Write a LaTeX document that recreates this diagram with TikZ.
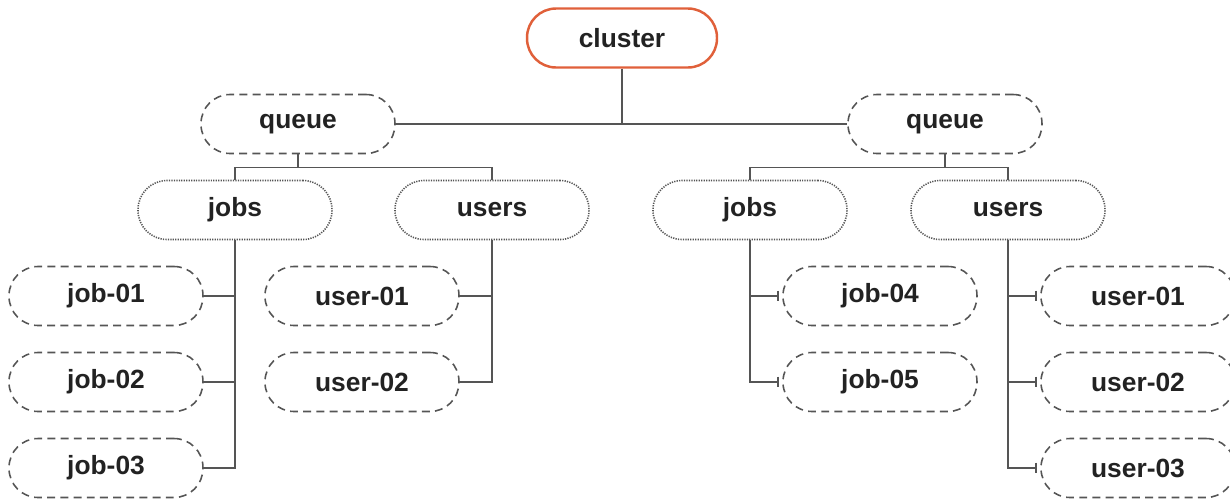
\documentclass[tikz,border=0pt]{standalone}
\usepackage{fontspec}
\setmainfont{Liberation Sans}
\usetikzlibrary{arrows.meta,calc}
\definecolor{orng}{HTML}{E0603A}
\definecolor{lgray}{HTML}{555555}
\definecolor{txt}{HTML}{222222}
\begin{document}
\begin{tikzpicture}[x=0.02cm,y=-0.02cm,
  base/.style={rectangle,rounded corners=0.58cm,minimum width=3.88cm,minimum height=1.18cm,
    font=\fontsize{15}{18}\selectfont\bfseries,text=txt,inner sep=0pt},
  rootbox/.style={base,draw=orng,line width=1.4pt,minimum width=3.8cm},
  dashbox/.style={base,draw=lgray,line width=0.9pt,dash pattern=on 4.5pt off 3pt},
  dotbox/.style={base,draw=lgray,line width=0.9pt,dash pattern=on 0.7pt off 0.7pt},
  conn/.style={draw=lgray,line width=0.8pt},
  bartip/.style={conn,-{Bar[width=6pt,line width=0.8pt]}}]
\useasboundingbox (0,0) rectangle (1230,501);
\node[rootbox] (cl) at (622,38) {cluster};
\node[dashbox] (qL) at (298,124) {queue};
\node[dashbox] (qR) at (945,124) {queue};
\node[dotbox] (jL) at (235,210) {jobs};
\node[dotbox] (uL) at (492,210) {users};
\node[dotbox] (jR) at (750,210) {jobs};
\node[dotbox] (uR) at (1008,210) {users};
\node[dashbox] (j1) at (106,296) {job-01};
\node[dashbox] (j2) at (106,382) {job-02};
\node[dashbox] (j3) at (106,468) {job-03};
\node[dashbox] (u1) at (362,296) {user-01};
\node[dashbox] (u2) at (362,382) {user-02};
\node[dashbox] (j4) at (880,296) {job-04};
\node[dashbox] (j5) at (880,382) {job-05};
\node[dashbox] (v1) at (1138,296) {user-01};
\node[dashbox] (v2) at (1138,382) {user-02};
\node[dashbox] (v3) at (1138,468) {user-03};
% top level
\draw[conn] (qL.east) -- (qR.west);
\draw[conn] (cl.south) -- (cl.south |- qL.east);
% queue -> jobs/users
\coordinate (bL) at ($(qL.south)+(0,13)$);
\coordinate (bR) at ($(qR.south)+(0,13)$);
\draw[conn] (qL.south) -- (bL) -| (jL.north);
\draw[conn] (bL) -| (uL.north);
\draw[conn] (qR.south) -- (bR) -| (jR.north);
\draw[conn] (bR) -| (uR.north);
% leaves
\draw[conn] (jL.south) |- (j1.east);
\draw[conn] (jL.south) |- (j2.east);
\draw[conn] (jL.south) |- (j3.east);
\draw[conn] (uL.south) |- (u1.east);
\draw[conn] (uL.south) |- (u2.east);
\draw[bartip] (jR.south) |- ([xshift=-2]j4.west);
\draw[bartip] (jR.south) |- ([xshift=-2]j5.west);
\draw[bartip] (uR.south) |- ([xshift=-2]v1.west);
\draw[bartip] (uR.south) |- ([xshift=-2]v2.west);
\draw[bartip] (uR.south) |- ([xshift=-2]v3.west);
\end{tikzpicture}
\end{document}
